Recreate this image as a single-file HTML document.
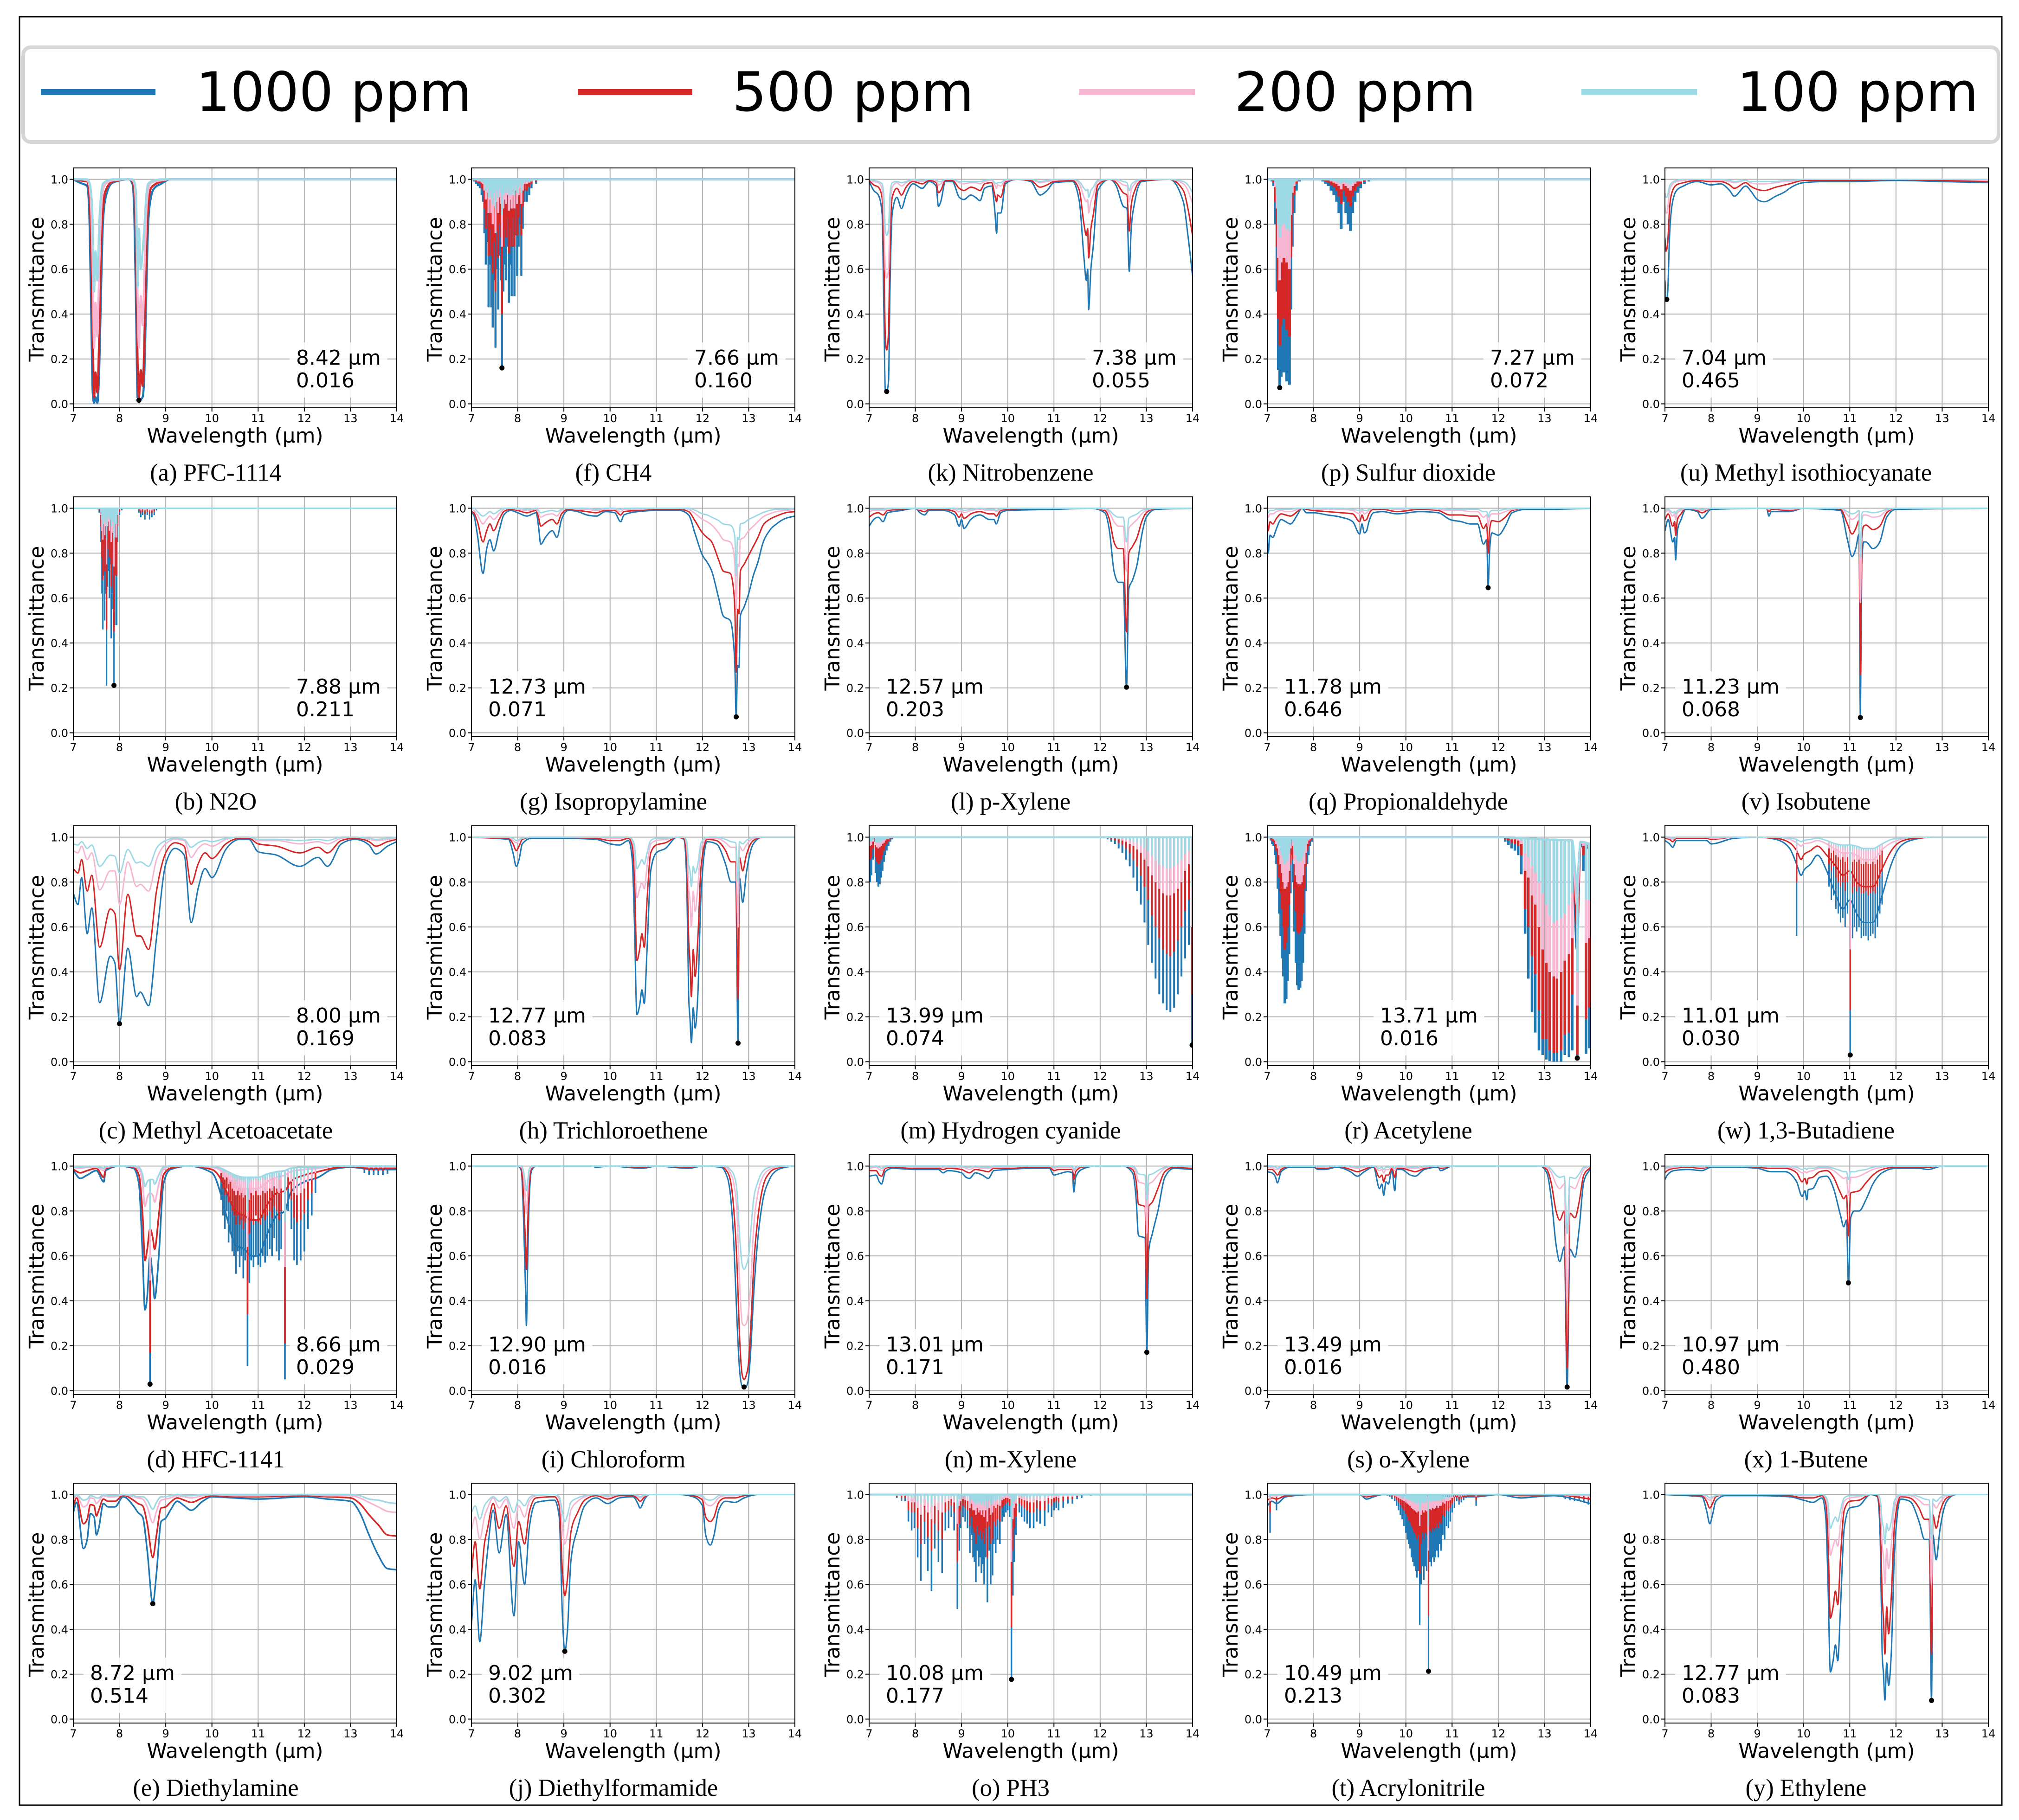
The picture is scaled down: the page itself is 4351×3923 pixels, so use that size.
<!DOCTYPE html>
<html lang="en">
<head>
<meta charset="utf-8">
<title>Gas transmittance spectra</title>
<style>
html,body{margin:0;padding:0;background:#fff;}
svg{display:block;}
text{fill:#000;}
.sans{font-family:"DejaVu Sans","Liberation Sans",sans-serif;}
.cap{font-family:"Liberation Serif",serif;font-size:52.5px;text-anchor:middle;}
</style>
</head>
<body>
<svg id="figure" xmlns="http://www.w3.org/2000/svg" width="4351" height="3923" viewBox="0 0 4351 3923">
  <rect x="0" y="0" width="4351" height="3923" fill="#fff"/>
  <rect x="42" y="36" width="4272" height="3855" fill="none" stroke="#000" stroke-width="3"/>
  <g>
    <rect x="50" y="102" width="4257" height="204" rx="16" fill="#fff" stroke="#d6d6d6" stroke-width="8"/>
    <g>
      <rect x="88" y="192" width="247" height="13" fill="#1f77b4"/>
      <text class="sans" x="422" y="239" font-size="116.5">1000 ppm</text>
    </g>
    <g>
      <rect x="1245" y="192" width="247" height="13" fill="#d62728"/>
      <text class="sans" x="1578" y="239" font-size="116.5">500 ppm</text>
    </g>
    <g>
      <rect x="2325" y="192" width="250" height="13" fill="#f7b6d2"/>
      <text class="sans" x="2660" y="239" font-size="116.5">200 ppm</text>
    </g>
    <g>
      <rect x="3408" y="192" width="249" height="13" fill="#9edae5"/>
      <text class="sans" x="3743" y="239" font-size="116.5">100 ppm</text>
    </g>
  </g>
  <g id="panels"></g>
  <g>
    <text class="cap" x="465" y="1036">(a) PFC-1114</text>
    <text class="cap" x="465" y="1745">(b) N2O</text>
    <text class="cap" x="465" y="2454">(c) Methyl Acetoacetate</text>
    <text class="cap" x="465" y="3163">(d) HFC-1141</text>
    <text class="cap" x="465" y="3871">(e) Diethylamine</text>
    <text class="cap" x="1322" y="1036">(f) CH4</text>
    <text class="cap" x="1322" y="1745">(g) Isopropylamine</text>
    <text class="cap" x="1322" y="2454">(h) Trichloroethene</text>
    <text class="cap" x="1322" y="3163">(i) Chloroform</text>
    <text class="cap" x="1322" y="3871">(j) Diethylformamide</text>
    <text class="cap" x="2178" y="1036">(k) Nitrobenzene</text>
    <text class="cap" x="2178" y="1745">(l) p-Xylene</text>
    <text class="cap" x="2178" y="2454">(m) Hydrogen cyanide</text>
    <text class="cap" x="2178" y="3163">(n) m-Xylene</text>
    <text class="cap" x="2178" y="3871">(o) PH3</text>
    <text class="cap" x="3035" y="1036">(p) Sulfur dioxide</text>
    <text class="cap" x="3035" y="1745">(q) Propionaldehyde</text>
    <text class="cap" x="3035" y="2454">(r) Acetylene</text>
    <text class="cap" x="3035" y="3163">(s) o-Xylene</text>
    <text class="cap" x="3035" y="3871">(t) Acrylonitrile</text>
    <text class="cap" x="3892" y="1036">(u) Methyl isothiocyanate</text>
    <text class="cap" x="3892" y="1745">(v) Isobutene</text>
    <text class="cap" x="3892" y="2454">(w) 1,3-Butadiene</text>
    <text class="cap" x="3892" y="3163">(x) 1-Butene</text>
    <text class="cap" x="3892" y="3871">(y) Ethylene</text>
  </g>
</svg>
<script>
var xTickLabels=[7,8,9,10,11,12,13,14];
var yTickLabels=[0,0.2,0.4,0.6,0.8,1];
var panelIds=["a","b","c","d","e","f","g","h","i","j","k","l","m","n","o","p","q","r","s","t","u","v","w","x","y"];
var peakWave=[8.42,7.88,8.00,8.66,8.72,7.66,12.73,12.77,12.90,9.02,7.38,12.57,13.99,13.01,10.08,7.27,11.78,13.71,13.49,10.49,7.04,11.23,11.01,10.97,12.77];
var peakValue=[0.016,0.211,0.169,0.029,0.514,0.160,0.071,0.083,0.016,0.302,0.055,0.203,0.074,0.171,0.177,0.072,0.646,0.016,0.016,0.213,0.465,0.068,0.030,0.480,0.083];

/* wl_* = wavelengths of the smooth trace; t*_* = transmittance per concentration.
   sw_* = wavelengths of narrow absorption lines; s*_* = minimum transmittance of each line. */
var wl_a=[7,7.14,7.3,7.34,7.38,7.42,7.45,7.48,7.52,7.56,7.6,7.64,7.7,7.85,8.2,8.28,8.32,8.36,8.39,8.42,8.46,8.5,8.54,8.58,8.62,8.68,8.75,8.9,9.1,14];
var t1000_a=[1,.985,.97,.88,.5,.05,.005,.03,.005,.15,.5,.8,.92,.985,1,.98,.85,.4,.03,.016,.02,.03,.15,.5,.8,.92,.96,.98,1,1];
var t500_a=[1,.995,.99,.95,.75,.3,.03,.14,.05,.3,.7,.87,.95,.99,1,.99,.95,.7,.2,.03,.15,.08,.3,.7,.88,.96,.975,.99,1,1];
var t200_a=[1,1,.995,.98,.9,.6,.25,.45,.3,.6,.85,.95,.98,.995,1,.995,.98,.85,.5,.25,.48,.35,.6,.85,.95,.985,.99,.995,1,1];
var t100_a=[1,1,1,.99,.95,.8,.5,.68,.55,.8,.93,.98,.99,1,1,1,.99,.93,.52,.78,.6,.68,.8,.93,.98,.99,.995,1,1,1];

var wl_b=[7,14];var t1000_b=[1,1];var t500_b=[1,1];var t200_b=[1,1];var t100_b=[1,1];
var sw_b=[7.52,7.56,7.6,7.62,7.64,7.66,7.68,7.7,7.72,7.74,7.76,7.78,7.8,7.82,7.84,7.86,7.88,7.9,7.92,7.94,7.96,8,8.05,8.42,8.46,8.5,8.55,8.6,8.65,8.7,8.75,8.8];
var s1000_b=[.995,.98,.85,.62,.46,.7,.5,.62,.21,.65,.72,.6,.75,.42,.62,.55,.211,.48,.7,.48,.85,.97,.99,.98,.96,.97,.95,.97,.95,.96,.97,.99];
var s500_b=[.998,.99,.92,.78,.68,.84,.72,.8,.46,.82,.85,.78,.87,.65,.8,.75,.45,.7,.84,.7,.92,.985,.995,.99,.98,.985,.975,.985,.975,.98,.985,.995];
var s200_b=[1,.995,.97,.9,.86,.93,.88,.92,.75,.92,.94,.9,.95,.85,.91,.89,.74,.87,.93,.87,.97,.995,.998,.995,.99,.995,.99,.995,.99,.99,.995,.998];
var s100_b=[1,.998,.985,.95,.92,.97,.94,.96,.86,.96,.97,.95,.975,.92,.95,.94,.86,.93,.965,.93,.985,.998,1,.998,.995,.998,.995,.998,.995,.995,.998,1];

var wl_c=[7,7.1,7.18,7.3,7.4,7.57,7.8,7.9,8,8.18,8.37,8.45,8.63,8.8,9,9.2,9.4,9.55,9.7,9.85,10,10.3,10.6,10.8,11,11.4,11.9,12.3,12.5,12.8,13.1,13.4,13.55,13.8,14];
var t1000_c=[.75,.7,.82,.57,.685,.263,.47,.44,.17,.505,.29,.31,.25,.55,.88,.95,.92,.62,.77,.86,.82,.945,.99,.99,.935,.92,.87,.91,.87,.97,.99,.965,.925,.96,.98];
var t500_c=[.86,.84,.9,.76,.83,.51,.68,.66,.41,.745,.56,.56,.5,.76,.93,.975,.96,.79,.88,.93,.905,.97,.995,.995,.97,.96,.93,.955,.93,.985,.995,.98,.96,.98,.99];
var t200_c=[.94,.93,.96,.9,.93,.765,.85,.85,.7,.89,.78,.79,.76,.9,.97,.99,.985,.91,.95,.97,.96,.99,1,1,.985,.985,.97,.98,.97,.995,1,.99,.985,.99,.995];
var t100_c=[.97,.965,.98,.95,.965,.87,.92,.915,.84,.945,.885,.89,.87,.95,.985,.995,.99,.955,.975,.985,.98,.995,1,1,.99,.99,.985,.99,.985,1,1,.995,.99,.995,1];

var wl_d=[7,7.15,7.3,7.5,7.66,7.7,8,8.3,8.42,8.5,8.55,8.6,8.66,8.72,8.76,8.85,8.95,9.1,9.5,10,10.2,10.35,10.5,10.7,10.85,11,11.2,11.4,11.58,11.7,12,12.3,12.6,13,13.5,14];
var t1000_d=[.98,.945,.96,.98,.93,.98,1,.99,.92,.6,.36,.42,.6,.5,.41,.6,.92,.985,1,.97,.87,.75,.65,.63,.6,.6,.7,.78,.8,.88,.93,.95,.985,.995,.985,.985];
var t500_d=[.985,.97,.98,.99,.95,.99,1,.995,.96,.78,.58,.63,.72,.68,.63,.78,.96,.99,1,.985,.94,.87,.8,.78,.76,.76,.83,.88,.89,.93,.96,.975,.99,.998,.99,.99];
var t200_d=[.995,.99,.995,.995,.98,.995,1,.998,.985,.92,.82,.86,.88,.87,.84,.92,.985,.998,1,.995,.98,.95,.92,.9,.9,.9,.93,.95,.96,.975,.985,.99,.998,1,.997,.997];
var t100_d=[.998,.995,.998,.998,.99,.998,1,1,.995,.96,.91,.93,.94,.94,.92,.96,.995,1,1,.998,.99,.975,.96,.95,.95,.95,.965,.975,.98,.99,.995,.995,1,1,1,1];
var sw_d=[8.66,10.2,10.24,10.28,10.32,10.36,10.4,10.44,10.48,10.52,10.56,10.6,10.64,10.68,10.72,10.77,10.81,10.85,10.9,10.95,11,11.05,11.1,11.15,11.2,11.25,11.3,11.35,11.4,11.45,11.5,11.58,11.65,11.72,11.78,11.84,11.92,12,12.08,12.16,12.24,13.3,13.4,13.5,13.6,13.7,13.8];
var s1000_d=[.03,.85,.78,.72,.8,.66,.7,.62,.6,.52,.62,.55,.6,.5,.58,.11,.48,.58,.55,.6,.56,.55,.6,.57,.6,.63,.6,.68,.62,.58,.63,.05,.8,.72,.58,.56,.58,.62,.72,.78,.88,.97,.96,.96,.96,.96,.965];
var s500_d=[.17,.93,.9,.87,.9,.84,.85,.8,.78,.74,.78,.74,.76,.72,.75,.34,.7,.76,.74,.78,.75,.74,.78,.76,.78,.8,.77,.82,.8,.76,.8,.21,.9,.85,.77,.75,.76,.79,.85,.88,.94,.985,.98,.98,.98,.98,.985];
var s200_d=[.49,.97,.95,.94,.95,.92,.93,.9,.89,.87,.89,.87,.88,.86,.87,.64,.85,.88,.87,.89,.87,.87,.89,.88,.89,.9,.89,.91,.9,.88,.9,.55,.95,.93,.88,.87,.88,.9,.93,.94,.97,.995,.99,.99,.99,.99,.995];
var s100_d=[.72,.985,.975,.97,.975,.96,.965,.95,.945,.935,.945,.935,.94,.93,.935,.8,.925,.94,.935,.945,.935,.935,.945,.94,.945,.95,.945,.955,.95,.94,.95,.75,.975,.965,.94,.935,.94,.95,.965,.97,.985,.998,.995,.995,.995,.995,.998];

var wl_e=[7,7.07,7.22,7.3,7.37,7.45,7.5,7.55,7.65,7.75,7.9,8.08,8.3,8.4,8.5,8.6,8.72,8.8,8.9,9,9.1,9.25,9.4,9.55,9.8,10,10.5,11,12,12.5,13,13.2,13.4,13.6,13.8,14];
var t1000_e=[.92,.965,.76,.8,.915,.9,.82,.85,.96,.945,.945,.99,.95,.92,.9,.75,.514,.65,.88,.895,.93,.97,.95,.93,.97,.99,.985,.98,.99,.98,.97,.92,.82,.73,.67,.665];
var t500_e=[.95,.985,.87,.89,.955,.95,.905,.93,.98,.97,.97,.997,.975,.96,.95,.87,.72,.82,.94,.945,.965,.985,.975,.965,.985,.995,.99,.99,.995,.99,.985,.96,.91,.865,.82,.815];
var t200_e=[.98,.995,.945,.955,.985,.98,.96,.97,.995,.99,.99,1,.99,.985,.98,.945,.875,.925,.975,.98,.985,.995,.99,.985,.995,1,.995,.995,1,.995,.995,.985,.965,.945,.925,.92];
var t100_e=[.99,1,.975,.98,.995,.99,.985,.985,1,.995,.995,1,.995,.99,.99,.975,.935,.965,.99,.99,.995,1,.995,.995,1,1,1,1,1,1,1,.995,.98,.975,.965,.96];

var wl_f=[7,14];var t1000_f=[1,1];var t500_f=[1,1];var t200_f=[1,1];var t100_f=[1,1];
var sw_f=[7.05,7.1,7.14,7.18,7.22,7.25,7.28,7.31,7.34,7.37,7.4,7.43,7.46,7.49,7.52,7.55,7.58,7.61,7.64,7.66,7.69,7.72,7.75,7.78,7.81,7.84,7.87,7.9,7.93,7.96,7.99,8.02,8.05,8.08,8.11,8.15,8.2,8.25,8.3,8.4];
var s1000_f=[.99,.98,.97,.96,.93,.9,.76,.62,.72,.43,.62,.43,.34,.55,.25,.6,.42,.66,.55,.16,.5,.62,.55,.7,.45,.62,.48,.7,.48,.75,.57,.7,.8,.57,.78,.9,.9,.93,.96,.98];
var s500_f=[.995,.99,.985,.98,.96,.95,.87,.78,.85,.66,.78,.66,.58,.72,.5,.77,.65,.8,.74,.4,.7,.78,.74,.83,.67,.78,.7,.83,.7,.87,.75,.83,.89,.75,.88,.95,.95,.965,.98,.99];
var s200_f=[.998,.995,.99,.99,.985,.98,.95,.91,.94,.85,.91,.85,.8,.88,.76,.9,.85,.92,.89,.7,.87,.91,.89,.93,.86,.91,.87,.93,.87,.95,.89,.93,.96,.89,.95,.98,.98,.985,.99,.995];
var s100_f=[.999,.998,.995,.995,.99,.99,.975,.95,.97,.92,.95,.92,.89,.94,.87,.95,.92,.96,.94,.84,.93,.95,.94,.965,.93,.95,.93,.965,.93,.975,.94,.965,.98,.94,.975,.99,.99,.99,.995,.998];

var wl_g=[7,7.05,7.13,7.25,7.33,7.4,7.48,7.6,7.7,7.85,8,8.2,8.4,8.45,8.5,8.6,8.75,8.85,8.95,9.1,9.3,9.5,9.7,9.9,10.1,10.23,10.3,10.6,11,11.5,11.7,11.85,12,12.1,12.2,12.35,12.45,12.6,12.66,12.7,12.73,12.76,12.79,12.82,12.9,13,13.1,13.2,13.3,13.45,13.6,13.8,14];
var t1000_g=[.98,.97,.88,.71,.82,.86,.81,.9,.97,.99,.98,.965,.98,.92,.84,.87,.9,.87,.95,.99,.985,.97,.965,.985,.98,.94,.97,.985,.99,.99,.97,.88,.79,.76,.72,.6,.52,.5,.43,.3,.071,.3,.29,.52,.56,.62,.7,.76,.84,.9,.93,.955,.965];
var t500_g=[.985,.98,.94,.85,.9,.93,.9,.95,.985,.995,.99,.98,.99,.96,.92,.935,.95,.93,.975,.995,.99,.985,.98,.99,.99,.97,.985,.99,.995,.995,.985,.94,.89,.87,.85,.77,.72,.71,.66,.55,.27,.55,.53,.72,.75,.79,.83,.87,.92,.95,.965,.98,.985];
var t200_g=[.995,.99,.97,.93,.95,.965,.95,.975,.995,1,.995,.99,.995,.98,.96,.97,.975,.965,.99,1,.995,.995,.99,.995,.995,.985,.995,.995,1,1,.995,.975,.95,.94,.925,.89,.86,.85,.82,.75,.55,.75,.74,.86,.87,.9,.92,.94,.96,.975,.985,.99,.995];
var t100_g=[1,1,.985,.965,.975,.985,.975,.99,1,1,1,.995,1,.99,.98,.985,.99,.985,.995,1,1,1,.995,1,1,.995,1,1,1,1,1,.99,.975,.97,.96,.945,.93,.925,.91,.87,.7,.87,.86,.93,.935,.95,.96,.97,.98,.99,.995,.995,1];

var wl_h=[7,7.8,7.9,7.97,8.03,8.1,8.3,9,9.7,10,10.2,10.4,10.48,10.53,10.58,10.64,10.69,10.74,10.8,10.88,11,11.2,11.45,11.6,11.66,11.7,11.73,11.76,11.8,11.84,11.9,11.97,12.1,12.3,12.5,12.62,12.72,12.77,12.8,12.87,12.95,13.1,13.3,14];
var t1000_h=[1,.99,.93,.87,.9,.97,.995,.995,.99,.97,.965,.985,.9,.6,.21,.25,.32,.26,.5,.85,.93,.95,1,.99,.8,.3,.19,.085,.24,.15,.3,.75,.98,.97,.88,.8,.8,.083,.82,.71,.84,.97,1,1];
var t500_h=[1,.995,.97,.94,.96,.99,1,1,.995,.985,.985,.995,.96,.8,.45,.5,.57,.51,.72,.93,.965,.975,1,.995,.9,.55,.44,.29,.5,.38,.55,.87,.99,.985,.94,.89,.89,.28,.91,.85,.92,.985,1,1];
var t200_h=[1,1,.985,.975,.985,.995,1,1,1,.995,.995,1,.985,.92,.73,.77,.8,.77,.87,.97,.985,.99,1,1,.96,.78,.72,.6,.76,.67,.78,.95,.995,.995,.975,.955,.955,.6,.96,.94,.965,.995,1,1];
var t100_h=[1,1,.995,.985,.99,.995,1,1,1,1,1,1,.99,.96,.86,.88,.9,.88,.93,.985,.995,.995,1,1,.98,.88,.85,.78,.87,.84,.88,.975,1,1,.99,.98,.975,.8,.98,.97,.985,1,1,1];

var wl_i=[7,8,8.08,8.13,8.17,8.19,8.21,8.25,8.3,8.4,9.6,9.7,10,10.7,11,11.7,12,12.4,12.5,12.6,12.68,12.75,12.8,12.86,12.9,12.95,13,13.05,13.1,13.2,13.3,13.45,13.6,13.8,14];
var t1000_i=[1,1,.98,.75,.45,.29,.5,.85,.98,1,1,.995,1,.99,1,.99,1,.995,.97,.88,.65,.3,.1,.02,.016,.02,.06,.2,.4,.68,.84,.94,.98,.995,1];
var t500_i=[1,1,.99,.85,.65,.54,.68,.92,.99,1,1,.998,1,.995,1,.995,1,1,.985,.94,.8,.55,.25,.07,.05,.07,.13,.3,.52,.77,.9,.97,.99,.998,1];
var t200_i=[1,1,.995,.95,.85,.79,.85,.97,.995,1,1,1,1,1,1,1,1,1,.995,.97,.92,.78,.5,.3,.29,.3,.36,.5,.7,.88,.95,.985,.995,1,1];
var t100_i=[1,1,1,.975,.92,.89,.92,.985,1,1,1,1,1,1,1,1,1,1,1,.985,.96,.88,.7,.56,.54,.56,.6,.72,.84,.93,.975,.995,1,1,1];

var wl_j=[7,7.08,7.18,7.28,7.35,7.47,7.6,7.75,7.92,8.02,8.15,8.25,8.4,8.8,8.9,8.97,9.02,9.08,9.15,9.3,9.45,9.7,9.95,10.2,10.5,10.6,10.65,10.75,10.85,11.5,11.8,12,12.07,12.17,12.25,12.35,12.5,12.7,12.9,13.2,14];
var t1000_j=[.42,.62,.345,.6,.75,.93,.74,.91,.46,.79,.6,.85,.965,.975,.9,.45,.302,.4,.7,.85,.95,.985,.96,.985,.99,.96,.94,.98,1,1,.99,.95,.82,.775,.82,.93,.97,.965,.985,1,1];
var t500_j=[.65,.79,.58,.78,.85,.96,.85,.95,.68,.88,.78,.92,.985,.99,.95,.65,.55,.63,.83,.92,.975,.995,.98,.995,.995,.98,.97,.99,1,1,.995,.975,.9,.88,.9,.965,.985,.985,.995,1,1];
var t200_j=[.84,.9,.8,.9,.94,.985,.94,.98,.85,.95,.9,.97,.995,1,.98,.85,.78,.83,.93,.97,.99,1,.99,1,1,.99,.985,.995,1,1,1,.99,.96,.95,.96,.985,.995,.995,1,1,1];
var t100_j=[.92,.95,.89,.95,.97,.99,.97,.99,.92,.975,.95,.985,1,1,.99,.92,.88,.91,.965,.985,.995,1,.995,1,1,.995,.99,1,1,1,1,.995,.98,.975,.98,.995,1,1,1,1,1];

var wl_k=[7,7.1,7.2,7.28,7.32,7.35,7.38,7.42,7.45,7.5,7.6,7.7,7.8,7.95,8.15,8.3,8.45,8.5,8.55,8.65,8.8,8.95,9.05,9.2,9.3,9.4,9.5,9.65,9.72,9.76,9.78,9.85,9.95,10.2,10.5,10.7,10.85,11,11.4,11.55,11.65,11.7,11.73,11.75,11.8,11.85,11.95,12.2,12.35,12.5,12.58,12.63,12.67,12.75,12.9,13.5,13.8,13.9,14];
var t1000_k=[.99,.95,.93,.85,.4,.06,.055,.1,.5,.85,.92,.87,.93,.98,.96,.99,.97,.88,.9,.99,.99,.92,.91,.93,.92,.905,.96,.97,.86,.76,.85,.85,.98,1,.99,.93,.95,.985,.99,.9,.65,.55,.6,.42,.6,.7,.95,1,.97,.88,.87,.59,.77,.9,.99,1,.9,.75,.57];
var t500_k=[.995,.975,.965,.92,.65,.3,.24,.32,.7,.92,.96,.93,.965,.99,.98,.995,.985,.94,.95,.995,.995,.96,.95,.965,.96,.95,.98,.985,.93,.9,.93,.92,.99,1,.995,.965,.975,.99,.995,.95,.8,.75,.78,.65,.78,.84,.975,1,.985,.94,.93,.77,.88,.95,.995,1,.95,.87,.75];
var t200_k=[1,.99,.985,.96,.83,.6,.56,.6,.85,.965,.985,.97,.985,.995,.99,1,.995,.975,.98,1,1,.985,.98,.985,.985,.98,.99,.995,.975,.96,.975,.97,.995,1,1,.985,.99,.995,1,.98,.92,.9,.91,.85,.9,.93,.99,1,.995,.975,.97,.9,.95,.98,1,1,.98,.95,.89];
var t100_k=[1,.995,.99,.98,.92,.78,.75,.78,.93,.985,.99,.985,.99,1,.995,1,1,.99,.99,1,1,.99,.99,.99,.99,.99,.995,1,.985,.98,.985,.985,1,1,1,.99,.995,1,1,.99,.96,.95,.955,.92,.95,.965,.995,1,1,.99,.985,.95,.975,.99,1,1,.99,.975,.94];

var wl_l=[7,7.1,7.2,7.3,7.4,7.7,8,8.1,8.2,8.3,8.6,8.85,8.95,9,9.05,9.2,9.4,9.6,9.7,9.75,9.85,10,11,11.8,12.1,12.2,12.3,12.4,12.5,12.57,12.62,12.7,12.8,12.9,13,13.2,14];
var t1000_l=[.92,.95,.96,.94,.98,.99,1,.98,.97,.99,.99,.97,.92,.95,.91,.95,.97,.95,.95,.93,.98,.99,.995,1,.98,.9,.72,.67,.67,.203,.64,.68,.75,.88,.96,.995,1];
var t500_l=[.96,.975,.98,.97,.99,.995,1,.99,.985,.995,.995,.985,.96,.975,.955,.975,.985,.975,.975,.965,.99,.995,1,1,.99,.95,.85,.82,.82,.45,.8,.83,.87,.94,.98,.998,1];
var t200_l=[.985,.99,.99,.99,.995,1,1,.995,.995,1,1,.995,.985,.99,.98,.99,.995,.99,.99,.985,.995,1,1,1,.995,.98,.94,.92,.92,.72,.91,.93,.95,.975,.99,1,1];
var t100_l=[.995,.995,.995,.995,1,1,1,1,1,1,1,1,.995,.995,.99,.995,1,.995,.995,.99,1,1,1,1,1,.99,.97,.96,.96,.85,.955,.965,.975,.99,.995,1,1];

var wl_m=[7,14];var t1000_m=[1,1];var t500_m=[1,1];var t200_m=[1,1];var t100_m=[1,1];
var sw_m=[7.02,7.05,7.08,7.11,7.14,7.17,7.2,7.23,7.26,7.29,7.32,7.35,7.38,7.42,7.46,7.5,7.55,12.08,12.16,12.24,12.32,12.4,12.48,12.56,12.64,12.72,12.8,12.88,12.96,13.04,13.12,13.2,13.28,13.36,13.44,13.52,13.6,13.68,13.76,13.84,13.92,13.99];
var s1000_m=[.8,.83,.9,.98,.84,.8,.78,.79,.82,.85,.89,.92,.94,.96,.98,.99,1,.995,.99,.98,.97,.95,.93,.9,.87,.82,.76,.7,.62,.52,.44,.37,.3,.26,.23,.22,.24,.3,.38,.46,.52,.074];
var s500_m=[.9,.91,.95,.99,.91,.89,.88,.885,.9,.92,.94,.96,.97,.98,.99,.995,1,.998,.995,.99,.985,.975,.965,.95,.93,.9,.87,.83,.78,.72,.65,.6,.55,.5,.48,.47,.49,.54,.6,.67,.72,.3];
var s200_m=[.96,.965,.98,1,.965,.955,.95,.955,.96,.97,.975,.985,.99,.99,.995,1,1,1,1,.998,.995,.99,.985,.98,.97,.96,.945,.93,.9,.87,.83,.8,.77,.75,.74,.74,.75,.77,.8,.85,.88,.6];
var s100_m=[.98,.98,.99,1,.98,.975,.975,.975,.98,.985,.99,.99,.995,.995,1,1,1,1,1,1,.998,.995,.995,.99,.985,.98,.975,.965,.95,.935,.915,.9,.88,.87,.86,.86,.87,.88,.9,.925,.94,.78];

var wl_n=[7,7.15,7.22,7.27,7.35,7.5,8,8.5,8.6,8.7,9,9.1,9.17,9.3,9.45,9.58,9.7,10,10.5,10.9,11,11.1,11.3,11.4,11.43,11.47,11.6,11.9,12.5,12.7,12.78,12.83,12.97,13.01,13.05,13.13,13.25,13.4,13.6,14];
var t1000_n=[.955,.96,.93,.92,.975,.99,.985,.985,.97,.98,.97,.95,.945,.97,.96,.945,.98,.985,.99,.99,.96,.965,.975,.97,.885,.95,.985,1,1,.97,.85,.69,.68,.171,.62,.7,.8,.95,.99,.985];
var t500_n=[.98,.98,.96,.955,.99,.995,.99,.99,.985,.99,.985,.975,.97,.985,.98,.975,.99,.99,.995,.995,.98,.985,.985,.985,.94,.975,.995,1,1,.985,.93,.83,.82,.41,.82,.84,.9,.975,.995,.99];
var t200_n=[.99,.995,.985,.98,.995,1,.995,.995,.995,.995,.995,.99,.985,.995,.99,.99,.995,.995,1,1,.99,.995,.995,.995,.975,.99,1,1,1,.995,.97,.93,.92,.7,.92,.93,.96,.99,1,.995];
var t100_n=[.995,1,.995,.99,1,1,1,1,1,1,1,.995,.995,1,.995,.995,1,1,1,1,.995,1,1,1,.985,.995,1,1,1,1,.985,.965,.96,.85,.96,.965,.98,.995,1,1];

var wl_o=[7,14];var t1000_o=[1,1];var t500_o=[1,1];var t200_o=[1,1];var t100_o=[1,1];
var sw_o=[7.6,7.7,7.78,7.85,7.92,7.98,8.05,8.12,8.2,8.27,8.35,8.42,8.5,8.58,8.65,8.72,8.78,8.84,8.91,8.95,8.98,9.03,9.08,9.13,9.18,9.22,9.25,9.28,9.31,9.34,9.37,9.4,9.43,9.46,9.49,9.52,9.56,9.6,9.63,9.67,9.7,9.74,9.78,9.83,9.88,9.92,9.96,10,10.04,10.08,10.11,10.14,10.18,10.25,10.3,10.36,10.42,10.48,10.56,10.63,10.7,10.8,10.88,10.95,11,11.05,11.1,11.2,11.3,11.4,11.5,11.6,11.8,12];
var s1000_o=[.985,.97,.97,.88,.84,.85,.72,.615,.78,.66,.57,.76,.7,.65,.84,.85,.9,.84,.49,.75,.85,.9,.88,.85,.74,.82,.72,.7,.61,.75,.68,.72,.65,.69,.6,.72,.52,.75,.6,.64,.78,.74,.8,.78,.88,.9,.92,.93,.9,.177,.55,.7,.82,.92,.9,.88,.87,.85,.85,.88,.87,.86,.92,.9,.93,.94,.93,.94,.96,.96,.98,.985,.995,.998];
var s500_o=[.99,.985,.985,.93,.92,.92,.85,.78,.88,.81,.75,.87,.84,.8,.92,.93,.95,.92,.7,.87,.93,.95,.94,.93,.86,.9,.85,.83,.78,.86,.82,.84,.8,.83,.78,.85,.72,.86,.78,.8,.88,.86,.89,.88,.94,.95,.96,.965,.95,.41,.75,.85,.9,.96,.95,.94,.93,.92,.92,.94,.93,.93,.96,.95,.965,.97,.965,.97,.98,.98,.99,.995,.998,1];
var s200_o=[.995,.995,.995,.97,.965,.965,.94,.91,.95,.92,.89,.95,.93,.92,.965,.97,.98,.965,.87,.95,.97,.98,.975,.97,.94,.96,.93,.93,.91,.94,.92,.93,.91,.93,.9,.93,.88,.94,.91,.92,.95,.94,.955,.95,.975,.98,.985,.985,.98,.7,.89,.94,.96,.985,.98,.975,.97,.965,.965,.975,.97,.97,.985,.98,.985,.99,.985,.99,.99,.99,.995,1,1,1];
var s100_o=[1,1,1,.99,.985,.985,.97,.96,.98,.965,.95,.98,.97,.965,.985,.985,.99,.985,.94,.98,.985,.99,.99,.985,.97,.98,.97,.965,.955,.97,.96,.965,.955,.965,.95,.97,.94,.97,.955,.96,.975,.97,.98,.975,.99,.99,.995,.995,.99,.85,.95,.97,.98,.995,.99,.99,.985,.985,.985,.99,.985,.985,.995,.99,.995,.995,.995,.995,.995,.995,1,1,1,1];

var wl_p=[7,14];var t1000_p=[1,1];var t500_p=[1,1];var t200_p=[1,1];var t100_p=[1,1];
var sw_p=[7.05,7.1,7.14,7.18,7.21,7.24,7.27,7.3,7.33,7.36,7.39,7.42,7.45,7.48,7.51,7.54,7.58,7.63,7.7,8.1,8.2,8.26,8.32,8.38,8.44,8.5,8.55,8.6,8.65,8.7,8.75,8.8,8.85,8.9,8.96,9.02,9.1,9.2,9.35];
var s1000_p=[.999,.99,.97,.8,.5,.15,.072,.12,.27,.14,.2,.1,.14,.085,.42,.7,.85,.95,.99,.998,.99,.98,.97,.95,.93,.9,.85,.78,.9,.85,.8,.77,.85,.9,.94,.96,.98,.99,.995];
var s500_p=[1,.995,.985,.9,.7,.38,.26,.35,.5,.38,.42,.33,.38,.3,.65,.85,.93,.98,.995,1,.995,.99,.985,.975,.965,.95,.925,.89,.95,.925,.9,.88,.925,.95,.97,.98,.99,.995,1];
var s200_p=[1,1,.995,.965,.87,.65,.55,.63,.72,.65,.68,.63,.66,.6,.84,.94,.97,.99,1,1,1,.995,.995,.99,.985,.98,.97,.955,.98,.97,.96,.95,.97,.98,.99,.99,.995,1,1];
var s100_p=[1,1,.998,.985,.93,.8,.74,.79,.98,.8,.82,.78,.8,.77,.92,.97,.985,.995,1,1,1,1,1,.995,.995,.99,.985,.98,.99,.985,.98,.975,.985,.99,.995,.995,1,1,1];

var wl_q=[7,7.02,7.06,7.12,7.2,7.3,7.4,7.5,7.65,7.75,7.85,8,8.3,8.6,8.85,9,9.05,9.1,9.15,9.2,9.3,9.5,9.8,10.3,10.7,10.95,11.2,11.4,11.55,11.68,11.75,11.78,11.81,11.86,12,12.15,12.3,12.6,13,14];
var t1000_q=[.9,.8,.88,.87,.91,.95,.94,.93,.97,1,.98,.98,.97,.96,.94,.885,.93,.89,.9,.94,.98,.985,.975,.985,.98,.95,.94,.93,.93,.84,.86,.646,.8,.89,.88,.92,.98,.995,.995,1];
var t500_q=[.95,.9,.94,.93,.955,.975,.97,.965,.985,1,.995,.99,.985,.98,.975,.94,.97,.945,.95,.975,.995,.995,.985,.995,.99,.97,.97,.965,.965,.91,.93,.8,.9,.945,.94,.96,.99,1,1,1];
var t200_q=[.98,.96,.975,.975,.985,.99,.985,.985,.995,1,1,.995,.995,.995,.99,.975,.99,.975,.98,.99,1,1,.995,1,.995,.99,.99,.985,.985,.96,.97,.92,.96,.975,.975,.985,.995,1,1,1];
var t100_q=[.99,.98,.99,.99,.995,.995,.995,.995,1,1,1,1,1,1,.995,.99,.995,.99,.99,.995,1,1,1,1,1,.995,.995,.995,.995,.985,.985,.96,.98,.99,.99,.995,1,1,1,1];

var wl_r=[7,12,12.6,13,13.6,13.7,13.78,14];
var t1000_r=[1,1,.995,.99,.985,.5,.96,.95];
var t500_r=[1,1,.995,.99,.985,.6,.97,.96];
var t200_r=[1,1,.995,.99,.985,.7,.975,.965];
var t100_r=[1,1,.995,.99,.985,.8,.98,.97];
var sw_r=[7.05,7.08,7.11,7.14,7.17,7.2,7.23,7.26,7.29,7.32,7.35,7.38,7.41,7.44,7.47,7.5,7.53,7.56,7.59,7.62,7.65,7.68,7.71,7.74,7.77,7.8,7.83,7.86,7.89,7.92,7.96,8,12.15,12.22,12.29,12.36,12.43,12.5,12.58,12.65,12.73,12.8,12.88,12.96,13.04,13.11,13.2,13.27,13.36,13.44,13.53,13.6,13.71,13.84,13.9,13.97];
var s1000_r=[.995,.985,.97,.96,.92,.88,.77,.66,.56,.46,.38,.26,.28,.36,.48,.75,.92,.8,.58,.44,.34,.32,.33,.36,.44,.57,.76,.88,.92,.96,.98,.995,.98,.965,.95,.94,.92,.835,.57,.37,.22,.13,.05,.03,.01,.003,0,0,0,.03,.02,.05,.016,.85,.035,.06];
var s500_r=[.998,.99,.985,.98,.96,.94,.88,.82,.75,.68,.6,.5,.53,.6,.7,.88,.97,.9,.77,.67,.58,.57,.58,.6,.66,.77,.87,.94,.96,.98,.99,.998,.99,.985,.975,.97,.96,.92,.68,.6,.47,.39,.23,.1,.1,.05,.04,.04,.05,.12,.13,.3,.03,.92,.19,.24];
var s200_r=[1,.995,.995,.99,.985,.97,.95,.92,.88,.84,.8,.77,.78,.8,.85,.95,.99,.96,.88,.83,.8,.79,.79,.8,.83,.88,.93,.97,.985,.99,.995,1,.996,.995,.99,.99,.985,.97,.85,.82,.74,.7,.6,.5,.44,.4,.38,.37,.4,.45,.48,.55,.25,.96,.53,.55];
var s100_r=[1,1,.998,.995,.99,.985,.975,.96,.94,.92,.9,.88,.89,.9,.93,.97,.995,.98,.94,.92,.9,.89,.89,.9,.915,.94,.965,.985,.99,.995,.998,1,1,.998,.995,.995,.995,.985,.93,.91,.87,.84,.8,.75,.7,.65,.62,.63,.64,.66,.7,.75,.4,.98,.72,.72];

var wl_s=[7,7.1,7.18,7.22,7.3,7.5,8,8.1,8.25,8.5,8.8,8.95,9.1,9.3,9.43,9.48,9.52,9.57,9.62,9.7,9.76,9.8,9.9,10.1,10.2,10.4,10.7,10.75,11,12,12.9,13.05,13.15,13.25,13.33,13.43,13.49,13.55,13.66,13.75,13.85,14];
var t1000_s=[.975,.97,.95,.925,.975,.995,.995,.985,.985,.995,.975,.955,.975,.995,.9,.92,.87,.93,.92,.985,.89,.985,.985,.96,.955,.985,.995,.98,1,1,1,.97,.85,.65,.575,.64,.016,.63,.595,.72,.93,.99];
var t500_s=[.985,.985,.97,.96,.985,1,1,.99,.99,1,.985,.975,.985,1,.95,.96,.93,.96,.96,.99,.95,.99,.99,.98,.975,.99,1,.99,1,1,1,.985,.92,.8,.76,.8,.1,.79,.77,.84,.96,.995];
var t200_s=[.995,.995,.985,.985,.995,1,1,.995,.995,1,.995,.99,.995,1,.98,.985,.97,.985,.985,.995,.98,.995,.995,.99,.99,.995,1,.995,1,1,1,.995,.97,.92,.9,.92,.4,.91,.9,.94,.985,1];
var t100_s=[1,1,.995,.99,1,1,1,1,1,1,1,.995,1,1,.99,.995,.985,.995,.995,1,.99,1,1,.995,.995,1,1,1,1,1,1,1,.985,.96,.95,.955,.7,.95,.945,.965,.995,1];

var wl_t=[7,7.1,7.2,7.4,8,9,9.15,9.3,9.5,11.5,12,12.5,12.8,13.2,14];
var t1000_t=[.95,.97,.96,.99,1,1,.98,.99,1,.99,1,.985,.99,.995,.96];
var t500_t=[.975,.985,.98,.995,1,1,.99,.995,1,.995,1,.995,.995,1,.98];
var t200_t=[.99,.995,.995,1,1,1,.995,1,1,1,1,1,1,1,.995];
var t100_t=[1,1,1,1,1,1,1,1,1,1,1,1,1,1,1];
var sw_t=[7.06,7.2,9.6,9.65,9.7,9.76,9.8,9.84,9.88,9.92,9.96,10,10.03,10.06,10.09,10.12,10.15,10.18,10.21,10.24,10.27,10.3,10.33,10.36,10.39,10.42,10.45,10.49,10.52,10.55,10.58,10.61,10.64,10.67,10.7,10.73,10.76,10.8,10.84,10.88,10.92,10.96,11,11.05,11.1,11.15,11.2,11.25,11.3,11.52,13.3,13.45,13.55,13.65,13.75,13.85,13.95];
var s1000_t=[.83,.93,.995,.99,.98,.97,.95,.93,.91,.89,.86,.83,.8,.78,.76,.72,.7,.68,.66,.63,.66,.42,.6,.68,.62,.68,.66,.213,.7,.68,.72,.7,.72,.75,.72,.78,.75,.82,.8,.86,.85,.88,.92,.94,.97,.955,.965,.975,.985,.95,.99,.98,.975,.97,.97,.965,.955];
var s500_t=[.92,.97,.998,.995,.99,.985,.975,.965,.955,.94,.93,.915,.9,.885,.875,.86,.845,.83,.82,.8,.82,.65,.78,.83,.8,.83,.82,.46,.84,.83,.85,.84,.85,.87,.85,.88,.87,.91,.9,.93,.925,.94,.96,.97,.985,.975,.98,.985,.99,.975,.995,.99,.99,.985,.985,.98,.975];
var s200_t=[.97,.99,1,1,1,.995,.99,.985,.98,.975,.97,.965,.96,.955,.95,.94,.935,.93,.925,.92,.925,.86,.91,.93,.92,.93,.925,.75,.935,.93,.94,.935,.94,.95,.94,.95,.95,.965,.96,.97,.97,.975,.985,.99,.995,.99,.99,.995,.995,.99,1,.995,.995,.995,.995,.995,.99];
var s100_t=[.985,.995,1,1,1,1,.995,.995,.99,.985,.985,.98,.98,.975,.975,.97,.965,.965,.96,.96,.965,.93,.955,.965,.96,.965,.965,.86,.97,.965,.97,.97,.97,.975,.97,.975,.975,.98,.98,.985,.985,.99,.99,.995,1,.995,.995,1,1,.995,1,1,1,1,1,1,.995];

var wl_u=[7,7.02,7.04,7.06,7.1,7.15,7.25,7.4,7.7,8,8.2,8.4,8.5,8.75,8.85,9,9.15,9.4,9.6,9.7,10,10.5,11,12,13,14];
var t1000_u=[.55,.47,.465,.5,.75,.88,.95,.97,.99,.975,.98,.95,.925,.97,.95,.91,.9,.925,.945,.96,.985,.99,.99,.995,.99,.985];
var t500_u=[.74,.68,.69,.72,.87,.94,.975,.985,.995,.99,.99,.975,.96,.985,.97,.955,.95,.965,.975,.98,.995,.995,.995,1,.995,.99];
var t200_u=[.88,.85,.85,.87,.95,.975,.99,.995,1,.995,.995,.99,.985,.995,.985,.98,.98,.985,.99,.99,1,1,1,1,1,.995];
var t100_u=[.94,.92,.92,.93,.97,.985,.995,1,1,1,1,.995,.99,.995,.99,.99,.99,.99,.995,.995,1,1,1,1,1,1];

var wl_v=[7,7.07,7.17,7.21,7.23,7.27,7.35,7.45,7.7,7.8,8,9.2,9.25,9.3,9.7,10,10.5,10.8,10.95,11.05,11.13,11.2,11.23,11.26,11.3,11.35,11.5,11.65,11.8,12,14];
var t1000_v=[.9,.95,.85,.87,.77,.9,.95,.995,.985,.955,.995,1,.965,.985,.985,1,.995,.99,.86,.785,.82,.885,.068,.75,.85,.85,.82,.85,.96,.995,1];
var t500_v=[.95,.975,.92,.94,.88,.95,.975,1,.99,.98,1,1,.985,.995,.99,1,1,.995,.93,.885,.91,.945,.26,.87,.92,.925,.905,.92,.98,1,1];
var t200_v=[.98,.99,.965,.975,.95,.98,.99,1,.995,.99,1,1,.995,1,.995,1,1,1,.97,.95,.96,.975,.58,.945,.97,.97,.96,.965,.99,1,1];
var t100_v=[.99,.995,.98,.985,.975,.99,.995,1,1,.995,1,1,1,1,1,1,1,1,.985,.975,.98,.99,.78,.975,.985,.985,.98,.985,.995,1,1];

var wl_w=[7,7.1,7.17,7.25,7.5,7.9,8,8.5,9,9.4,9.7,9.85,9.95,10,10.15,10.3,10.5,10.7,10.85,11,11.15,11.3,11.5,11.7,11.9,12.1,12.4,12.8,14];
var t1000_w=[.985,.97,.955,.985,.985,.985,.97,.995,1,.99,.95,.88,.83,.85,.88,.92,.85,.74,.68,.72,.66,.62,.62,.74,.88,.96,.99,1,1];
var t500_w=[.995,.99,.98,.995,.995,.995,.99,1,1,.995,.975,.94,.9,.92,.94,.96,.92,.87,.83,.85,.8,.78,.78,.86,.94,.98,.995,1,1];
var t200_w=[1,.995,.99,1,1,1,.995,1,1,1,.99,.975,.96,.97,.975,.985,.97,.945,.93,.93,.92,.9,.9,.945,.975,.99,1,1,1];
var t100_w=[1,1,.995,1,1,1,1,1,1,1,.995,.99,.98,.985,.99,.995,.985,.97,.965,.965,.96,.95,.95,.97,.99,.995,1,1,1];
var sw_w=[9.85,10.55,10.6,10.65,10.7,10.75,10.8,10.85,10.9,10.95,11.01,11.06,11.1,11.15,11.2,11.25,11.3,11.35,11.4,11.45,11.5,11.55,11.6,11.65,11.7];
var s1000_w=[.56,.78,.72,.74,.68,.66,.62,.64,.6,.66,.03,.55,.6,.58,.6,.55,.56,.56,.54,.56,.57,.55,.6,.66,.7];
var s500_w=[.8,.88,.85,.87,.82,.8,.78,.8,.76,.8,.23,.75,.78,.76,.78,.75,.75,.76,.74,.75,.76,.75,.78,.82,.85];
var s200_w=[.93,.95,.93,.94,.92,.91,.9,.91,.89,.91,.5,.89,.9,.89,.9,.88,.88,.89,.88,.88,.89,.88,.9,.92,.94];
var s100_w=[.96,.975,.965,.97,.96,.955,.95,.955,.945,.955,.72,.945,.95,.945,.95,.94,.94,.945,.94,.94,.945,.94,.95,.96,.97];

var wl_x=[7,7.05,7.2,7.5,7.8,8,8.5,9,9.3,9.6,9.85,9.97,10.03,10.07,10.1,10.2,10.35,10.5,10.65,10.8,10.87,10.93,10.97,11.02,11.1,11.2,11.35,11.5,11.7,12,12.5,12.7,13,14];
var t1000_x=[.94,.96,.98,.985,.98,.995,.995,.99,.975,.975,.93,.865,.89,.85,.895,.9,.95,.955,.9,.78,.73,.76,.48,.77,.8,.8,.85,.92,.97,.99,.99,.985,1,1];
var t500_x=[.97,.98,.99,.995,.99,1,1,.995,.99,.99,.97,.93,.945,.92,.945,.95,.975,.98,.95,.88,.855,.87,.69,.88,.885,.89,.925,.96,.985,.995,.995,.995,1,1];
var t200_x=[.99,.99,.995,1,.995,1,1,1,.995,.995,.985,.97,.975,.97,.975,.98,.99,.99,.98,.955,.945,.95,.87,.95,.95,.955,.97,.985,.995,1,1,1,1,1];
var t100_x=[.995,.995,1,1,1,1,1,1,1,1,.995,.985,.99,.985,.99,.99,.995,.995,.99,.98,.975,.975,.94,.975,.975,.98,.985,.995,1,1,1,1,1,1];

var wl_y=[7,7.8,7.9,7.97,8.03,8.1,8.3,9,9.7,10,10.2,10.4,10.48,10.53,10.58,10.64,10.69,10.74,10.8,10.88,11,11.2,11.45,11.6,11.66,11.7,11.73,11.76,11.8,11.84,11.9,11.97,12.1,12.3,12.5,12.62,12.72,12.77,12.8,12.87,12.95,13.1,13.3,14];
var t1000_y=[1,.99,.93,.87,.91,.97,.995,.995,.99,.975,.965,.985,.9,.6,.21,.26,.33,.26,.5,.85,.94,.95,1,.99,.8,.3,.2,.085,.25,.15,.3,.75,.98,.97,.88,.8,.8,.083,.82,.71,.84,.97,1,1];
var t500_y=[1,.995,.97,.94,.96,.99,1,1,.995,.985,.985,.995,.96,.8,.45,.5,.57,.51,.72,.93,.97,.975,1,.995,.9,.55,.44,.29,.5,.38,.55,.87,.99,.985,.94,.89,.89,.29,.91,.85,.92,.985,1,1];
var t200_y=[1,1,.985,.975,.985,.995,1,1,1,.995,.995,1,.985,.92,.73,.77,.8,.77,.87,.97,.985,.99,1,1,.96,.78,.72,.6,.76,.67,.78,.95,.995,.995,.975,.955,.955,.6,.96,.94,.965,.995,1,1];
var t100_y=[1,1,.995,.985,.99,.995,1,1,1,1,1,1,.99,.96,.85,.88,.9,.88,.93,.985,.995,.995,1,1,.98,.88,.85,.78,.87,.84,.88,.975,1,1,.99,.98,.975,.8,.98,.97,.985,1,1,1];

var SVGNS='http://www.w3.org/2000/svg';
var colLeft=[158,1016,1873,2731,3588];
var rowTop=[362,1071,1780,2489,3197];
var plotW=697,plotH=517;
var concentrations=['1000','500','200','100'];
var seriesColors=['#1f77b4','#d62728','#f7b6d2','#9edae5'];
var annotRight={a:480,b:480,c:480,d:480,f:480,k:480,p:480,r:243};
var traceWidth={a:4.5,d:3.6,e:3.4,o:3.5,p:6,f:4.5,m:4,r:5.5,t:3.2};

function make(tag,attrs,parent){
  var el=document.createElementNS(SVGNS,tag);
  for(var k in attrs){el.setAttribute(k,attrs[k]);}
  parent.appendChild(el);
  return el;
}
function xAxis(left,v){return left+(v-7)*plotW/7;}
function yAxis(top,v){return top+24.5+(1-v)*484;}
function interp(xs,ys,x){
  for(var i=0;i<xs.length-1;i++){
    if(x>=xs[i]&&x<=xs[i+1]){
      var f=(x-xs[i])/(xs[i+1]-xs[i]);
      return ys[i]+f*(ys[i+1]-ys[i]);
    }
  }
  return ys[ys.length-1];
}
function sign(v){return v<0?-1:1;}
/* monotone cubic path through pixel points, no overshoot */
function curvePath(px,py){
  var n=px.length,d='M'+px[0].toFixed(1)+' '+py[0].toFixed(1);
  if(n<3){return d+'L'+px[n-1].toFixed(1)+' '+py[n-1].toFixed(1);}
  var s=[],t=[],i;
  for(i=0;i<n-1;i++){s[i]=(py[i+1]-py[i])/((px[i+1]-px[i])||1e-6);}
  t[0]=s[0];t[n-1]=s[n-2];
  for(i=1;i<n-1;i++){
    var h0=px[i]-px[i-1],h1=px[i+1]-px[i];
    var p=(s[i-1]*h1+s[i]*h0)/((h0+h1)||1e-6);
    t[i]=(sign(s[i-1])+sign(s[i]))*Math.min(Math.abs(s[i-1]),Math.abs(s[i]),0.5*Math.abs(p));
  }
  for(i=0;i<n-1;i++){
    var h=(px[i+1]-px[i])/3;
    d+='C'+(px[i]+h).toFixed(1)+' '+(py[i]+h*t[i]).toFixed(1)+' '+(px[i+1]-h).toFixed(1)+' '+(py[i+1]-h*t[i+1]).toFixed(1)+' '+px[i+1].toFixed(1)+' '+py[i+1].toFixed(1);
  }
  return d;
}

var root=document.getElementById('panels');
var defs=make('defs',{},root);

panelIds.forEach(function(id,i){
  var left=colLeft[Math.floor(i/5)];
  var top=rowTop[i%5];
  var right=left+plotW,bottom=top+plotH;

  var g=make('g',{},root);
  
  

  var clip=make('clipPath',{id:'clip-'+id},defs);
  make('rect',{x:left,y:top,width:plotW,height:plotH},clip);

  xTickLabels.forEach(function(t){
    var x=xAxis(left,t);
    var gl=make('line',{x1:x,x2:x,y1:top,y2:bottom,stroke:'#b0b0b0','stroke-width':2},g);
    
    
    var tk=make('line',{x1:x,x2:x,y1:bottom,y2:bottom+8,stroke:'#000','stroke-width':2},g);
    
    
    var lb=make('text',{x:x,y:bottom+31,'font-size':24,'text-anchor':'middle','class':'sans'},g);
    
    
    lb.textContent=String(t);
  });
  yTickLabels.forEach(function(t){
    var y=yAxis(top,t);
    var gl=make('line',{x1:left,x2:right,y1:y,y2:y,stroke:'#b0b0b0','stroke-width':2},g);
    
    
    var tk=make('line',{x1:left-8,x2:left,y1:y,y2:y,stroke:'#000','stroke-width':2},g);
    
    
    var lb=make('text',{x:left-11,y:y+9,'font-size':24,'text-anchor':'end','class':'sans'},g);
    
    
    lb.textContent=t.toFixed(1);
  });

  var plot=make('g',{'clip-path':'url(#clip-'+id+')'},g);
  
  
  var lw=traceWidth[id]||3;

  concentrations.forEach(function(c,si){
    var wl=window['wl_'+id],vals=window['t'+c+'_'+id];
    var px=[],py=[];
    for(var j=0;j<wl.length&&j<vals.length;j++){
      px.push(xAxis(left,wl[j]));
      py.push(yAxis(top,vals[j]));
    }
    var line=make('path',{d:curvePath(px,py),fill:'none',stroke:seriesColors[si],'stroke-width':Math.min(lw,4.5),'stroke-linejoin':'round'},plot);
    
    
    var sw=window['sw_'+id],sv=window['s'+c+'_'+id];
    if(sw&&sv){
      var topVals=window['t'+concentrations[Math.min(si+1,3)]+'_'+id];
      var ds='';
      for(var k=0;k<sw.length&&k<sv.length;k++){
        var sx=xAxis(left,sw[k]).toFixed(1);
        ds+='M'+sx+' '+yAxis(top,interp(wl,topVals,sw[k])).toFixed(1)+'L'+sx+' '+yAxis(top,sv[k]).toFixed(1);
      }
      var sp=make('path',{d:ds,fill:'none',stroke:seriesColors[si],'stroke-width':lw},plot);
      
      
    }
  });

  var dot=make('circle',{cx:xAxis(left,peakWave[i]),cy:yAxis(top,peakValue[i]),r:5.5,fill:'#000'},plot);
  
  

  var frame=make('rect',{x:left,y:top,width:plotW,height:plotH,fill:'none',stroke:'#000','stroke-width':2},g);
  
  

  var ann=make('g',{},g);
  
  
  var ax=left+(annotRight[id]||36);
  var box=make('rect',{x:ax-14,y:top+376,width:240,height:119,fill:'#fff','fill-opacity':0.85},ann);
  
  
  var t1=make('text',{x:ax,y:top+424,'font-size':44,'class':'sans'},ann);
  
  
  t1.textContent=peakWave[i].toFixed(2)+' \u00b5m';
  var t2=make('text',{x:ax,y:top+473,'font-size':44,'class':'sans'},ann);
  
  
  t2.textContent=peakValue[i].toFixed(3);
  box.setAttribute('width',t1.getComputedTextLength()+28);

  var xl=make('text',{x:left+plotW/2,y:bottom+75,'font-size':44,'text-anchor':'middle','class':'sans'},g);
  
  
  xl.textContent='Wavelength (\u00b5m)';
  var yl=make('text',{x:0,y:0,'font-size':44,'text-anchor':'middle','class':'sans',transform:'translate('+(left-64)+' '+(top+plotH/2+3)+') rotate(-90)'},g);
  
  
  yl.textContent='Transmittance';
});
</script>
</body>
</html>
